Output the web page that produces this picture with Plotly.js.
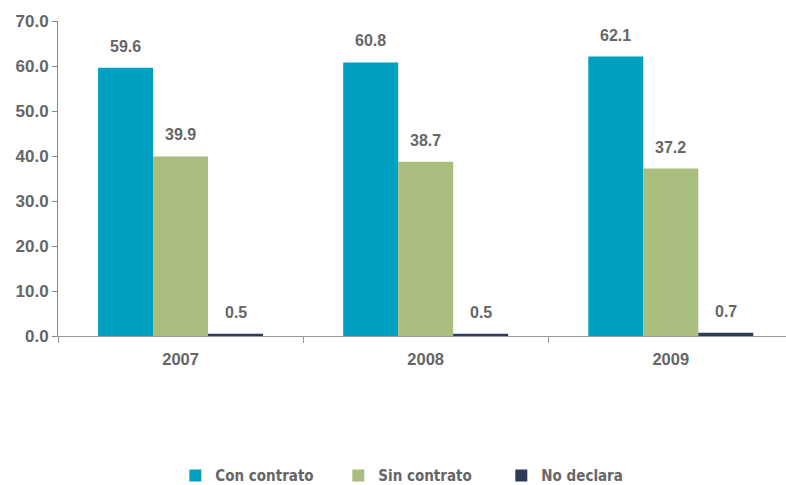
<!DOCTYPE html>
<html><head><meta charset="utf-8">
<script src="https://cdn.plot.ly/plotly-3.0.1.min.js"></script>
<style>body{margin:0;background:#fff}#c{width:786px;height:485px}</style>
</head><body><div id="c"></div>
<script>
const years = ['2007', '2008', '2009'];
const conContrato = [59.6, 60.8, 62.1];
const sinContrato = [39.9, 38.7, 37.2];
const noDeclara = [0.5, 0.5, 0.7];
const seriesNames = ['Con contrato', 'Sin contrato', 'No declara'];
const colors = ['#00A0C1', '#A9BD7F', '#2D3A59'];
const yTicks = [0, 10, 20, 30, 40, 50, 60, 70];

const gray = '#666666';
const labelFont = {family: 'Liberation Sans, Arial, sans-serif', size: 16, color: gray, weight: 'bold'};
const allSeries = [conContrato, sinContrato, noDeclara];
const barPx = 55;

const traces = allSeries.map((vals, i) => ({
  type: 'bar',
  x: years,
  y: vals,
  name: seriesNames[i],
  marker: {color: colors[i]},
  hoverinfo: 'none'
}));

const annotations = [];
allSeries.forEach((vals, i) => {
  vals.forEach((v, j) => {
    annotations.push({
      x: j, y: v, xref: 'x', yref: 'y',
      text: v.toFixed(1), showarrow: false,
      xshift: (i - 1) * barPx, yshift: 11, yanchor: 'bottom',
      font: labelFont
    });
  });
});

const layout = {
  width: 786, height: 485,
  margin: {l: 58, r: 0, t: 21, b: 149, autoexpand: false},
  paper_bgcolor: '#fff', plot_bgcolor: '#fff',
  barmode: 'group',
  bargap: 0.327,
  bargroupgap: 0,
  showlegend: true,
  annotations: annotations,
  legend: {
    orientation: 'h', x: 0.497, xanchor: 'center', y: -0.444, yanchor: 'middle',
    font: {family: 'DejaVu Sans Condensed, Liberation Sans Narrow, sans-serif', size: 15, color: gray, weight: 'bold'},
    entrywidth: 118, entrywidthmode: 'pixels',
    itemwidth: 30, traceorder: 'normal'
  },
  xaxis: {
    type: 'category',
    range: [-0.5, 2.47],
    showline: true, linecolor: '#999999', linewidth: 1,
    ticks: 'outside', tickson: 'boundaries', ticklen: 6, tickcolor: '#999999',
    ticklabelstandoff: 8,
    tickfont: {family: 'Liberation Sans, Arial, sans-serif', size: 16.5, color: gray, weight: 'bold'},
    showgrid: false, zeroline: false
  },
  yaxis: {
    range: [0, 70],
    tickvals: yTicks,
    ticktext: yTicks.map(v => v.toFixed(1)),
    showline: true, linecolor: '#888888', linewidth: 1,
    ticks: 'outside', ticklen: 5, tickcolor: '#888888',
    tickfont: {family: 'Liberation Sans, Arial, sans-serif', size: 17, color: gray, weight: 'bold'},
    showgrid: false, zeroline: false
  }
};

Plotly.newPlot('c', traces, layout, {staticPlot: true, displayModeBar: false});
</script>
</body></html>
